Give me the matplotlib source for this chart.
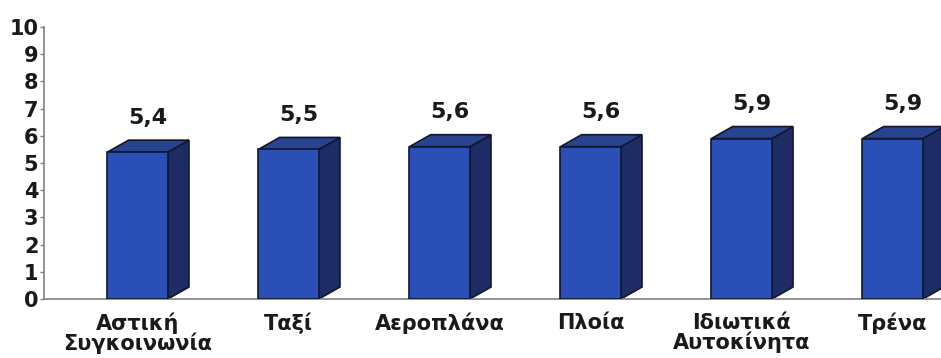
import matplotlib.pyplot as plt
from matplotlib.patches import Polygon

categories = ["Αστική\nΣυγκοινωνία", "Ταξί", "Αεροπλάνα", "Πλοία",
              "Ιδιωτικά\nΑυτοκίνητα", "Τρένα"]
values = [5.4, 5.5, 5.6, 5.6, 5.9, 5.9]
value_labels = ["5,4", "5,5", "5,6", "5,6", "5,9", "5,9"]
y_ticks = list(range(0, 11))

FRONT = "#2a4fb6"
SIDE = "#1d2c64"
TOP = "#29448f"
EDGE = "#10182e"

plt.rcParams["font.family"] = ["DejaVu Sans"]

fig = plt.figure(figsize=(9.41, 3.58), dpi=100)
# axes box in pixels: x 44..941, y 27..299 (from top)
ax = fig.add_axes([44 / 941, (358 - 299) / 358, (941 - 44) / 941, (299 - 27) / 358])

width = 0.40
dx = 0.14   # depth offset along x
dy = 0.44   # depth offset along y
x = list(range(len(values)))

for xi, v, lab in zip(x, values, value_labels):
    left = xi - width / 2
    right = xi + width / 2
    side = Polygon([(right, 0), (right + dx, dy), (right + dx, v + dy), (right, v)],
                   closed=True, facecolor=SIDE, edgecolor=EDGE, linewidth=1.2, zorder=2)
    top = Polygon([(left, v), (right, v), (right + dx, v + dy), (left + dx, v + dy)],
                  closed=True, facecolor=TOP, edgecolor=EDGE, linewidth=1.2, zorder=2)
    ax.add_patch(side)
    ax.add_patch(top)
    ax.bar(xi, v, width, color=FRONT, edgecolor=EDGE, linewidth=1.2, zorder=3)
    ax.text(xi + dx / 2, v + dy + 0.45, lab, ha="center", va="bottom",
            fontsize=16, fontweight="bold", color="#1a1a1a")

ax.set_xlim(-0.62, 5.32)
ax.set_ylim(0, 10)
ax.set_yticks(y_ticks)
ax.set_yticklabels([str(t) for t in y_ticks], fontsize=15, fontweight="bold", color="#1a1a1a")
ax.set_xticks(x)
ax.set_xticklabels(categories, fontsize=15, fontweight="bold", color="#1a1a1a")
for lbl in ax.get_xticklabels():
    lbl.set_linespacing(0.92)

ax.tick_params(axis="x", length=0, pad=10)
ax.tick_params(axis="y", length=3, width=1, color="#808080", pad=1)

for s in ("top", "right"):
    ax.spines[s].set_visible(False)
for s in ("left", "bottom"):
    ax.spines[s].set_color("#808080")
    ax.spines[s].set_linewidth(1.2)

fig.savefig("out.png", dpi=100)
